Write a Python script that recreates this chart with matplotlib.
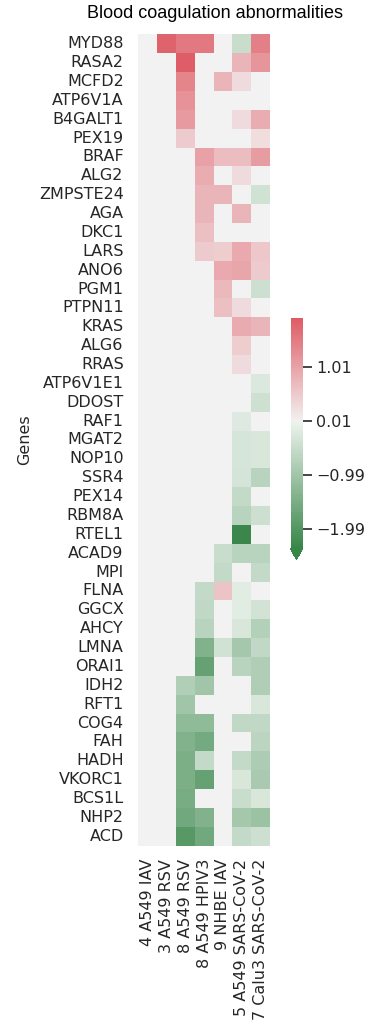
import numpy as np
import pandas as pd
import matplotlib
matplotlib.use("Agg")
import matplotlib.pyplot as plt
import seaborn as sns

nan = np.nan

genes = ["MYD88", "RASA2", "MCFD2", "ATP6V1A", "B4GALT1", "PEX19", "BRAF", "ALG2",
         "ZMPSTE24", "AGA", "DKC1", "LARS", "ANO6", "PGM1", "PTPN11", "KRAS", "ALG6",
         "RRAS", "ATP6V1E1", "DDOST", "RAF1", "MGAT2", "NOP10", "SSR4", "PEX14",
         "RBM8A", "RTEL1", "ACAD9", "MPI", "FLNA", "GGCX", "AHCY", "LMNA", "ORAI1",
         "IDH2", "RFT1", "COG4", "FAH", "HADH", "VKORC1", "BCS1L", "NHP2", "ACD"]

conditions = ["4 A549 IAV", "3 A549 RSV", "8 A549 RSV", "8 A549 HPIV3",
              "9 NHBE IAV", "5 A549 SARS-CoV-2", "7 Calu3 SARS-CoV-2"]

a549_iav_4 = [nan] * 43

a549_rsv_3 = [1.82] + [nan] * 42

a549_rsv_8 = [1.53, 1.91, 1.39, 1.22, 1.14, 0.50,
              nan, nan, nan, nan, nan, nan, nan, nan, nan, nan, nan, nan, nan, nan,
              nan, nan, nan, nan, nan, nan, nan, nan, nan, nan, nan, nan, nan, nan,
              -0.78, -0.99, -1.22, -1.38, -1.47, -1.47, -1.51, -1.62, -1.95]

a549_hpiv3_8 = [1.53, nan, nan, nan, nan, nan,
                1.04, 0.88, 0.78, 0.78, 0.64, 0.50,
                nan, nan, nan, nan, nan, nan, nan, nan, nan, nan, nan, nan, nan, nan,
                nan, nan, nan,
                -0.54, -0.58, -0.69, -1.38, -1.74, -0.99, nan, -1.22, -1.56, -0.54,
                -1.74, nan, -1.38, -1.62]

nhbe_iav_9 = [nan, nan, 0.78, nan, nan, nan, 0.67, nan, 0.78, nan, nan, 0.46, 0.94,
              0.75, 0.64, nan, nan, nan, nan, nan, nan, nan, nan, nan, nan, nan, nan,
              -0.47, -0.54, 0.59, nan, nan, -0.38, nan, nan, nan, nan, nan, nan, nan,
              nan, nan, nan]

a549_sars_5 = [-0.47, 0.78, 0.28, nan, 0.28, nan, 0.67, 0.28, nan, 0.78, nan, 0.94,
               0.96, nan, 0.28, 0.90, 0.46, 0.28, nan, nan, -0.19, -0.31, -0.31, -0.32,
               -0.54, -0.69, -2.32, -0.69, nan, -0.15, -0.15, -0.28, -0.95, -0.69, nan,
               nan, -0.58, nan, -0.54, -0.28, -0.47, -0.95, -0.54]

calu3_sars_7 = [1.46, 1.18, nan, nan, 0.88, 0.25, 1.10, nan, -0.38, nan, nan, 0.55,
                0.50, -0.44, nan, 0.79, nan, nan, -0.24, -0.41, nan, -0.28, -0.28,
                -0.70, nan, -0.44, nan, -0.69, -0.54, nan, -0.36, -0.76, -0.58, -0.79,
                -0.79, -0.28, -0.58, -0.66, -0.85, -0.90, -0.28, -1.06, -0.44]

cbar_ticks = [1.01, 0.01, -0.99, -1.99]

df = pd.DataFrame({c: v for c, v in zip(conditions, [a549_iav_4, a549_rsv_3, a549_rsv_8,
                                                     a549_hpiv3_8, nhbe_iav_9,
                                                     a549_sars_5, calu3_sars_7])},
                  index=genes)

W, H = 370, 1029
fig = plt.figure(figsize=(W / 100, H / 100), dpi=100)
fig.patch.set_facecolor("white")

ax = fig.add_axes([138.3 / W, 1 - 845.7 / H, (270 - 138.3) / W, (845.7 - 34.3) / H])
cax = fig.add_axes([290.5 / W, 1 - 560 / H, 12 / W, (560 - 318) / H])
ax.set_facecolor("#f2f2f2")

cmap = sns.diverging_palette(133, 10, as_cmap=True)

sns.heatmap(df, cmap=cmap, center=0, vmin=-2.36, vmax=1.93, ax=ax, cbar_ax=cax,
            cbar_kws={"extend": "min", "ticks": cbar_ticks},
            xticklabels=conditions, yticklabels=genes)

txt = ".15"
ax.tick_params(axis="both", length=0, labelsize=11.5, labelcolor=txt)
ax.tick_params(axis="y", pad=10.5, labelrotation=0)
ax.tick_params(axis="x", pad=9.5, labelrotation=90)
ax.set_xlabel("")
ax.set_ylabel("Genes", fontsize=11.5, color=txt, labelpad=5)
for s in ax.spines.values():
    s.set_visible(False)

cax.tick_params(length=6.5, width=1.2, color=".15", labelsize=11.5, labelcolor=txt, pad=3.4)
cax.set_yticklabels(["1.01", "0.01", "\u22120.99", "\u22121.99"])

fig.text(215 / W, 1 - 13 / H, "Blood coagulation abnormalities", ha="center", va="center",
         fontsize=13, family="Liberation Sans", color="black")

fig.savefig("out.png", dpi=100)
